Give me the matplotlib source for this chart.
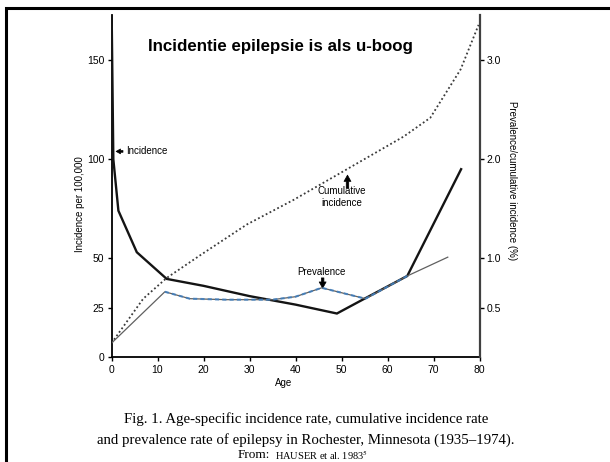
import matplotlib
matplotlib.use("Agg")
import matplotlib.pyplot as plt
from matplotlib.patches import Rectangle

plt.rcParams['font.family'] = ['Liberation Sans', 'DejaVu Sans']
plt.rcParams['mathtext.fontset'] = 'stix'

# ---- data ----
inc_age = [0, 0.4, 1.5, 5.5, 12, 20, 30, 40, 49, 55, 64.3, 76]
inc_val = [180, 100, 74, 53, 39.5, 36, 30.8, 26.5, 22, 29.5, 41, 95]        # per 100,000

cum_age = [0, 6.9, 12, 19.3, 29.4, 39.6, 49.7, 63.5, 69.3, 75.9, 79.8]
cum_val = [0.14, 0.59, 0.80, 1.03, 1.34, 1.59, 1.86, 2.23, 2.42, 2.91, 3.36]  # %

prev_age = [0, 11.6, 17, 25, 35, 40, 45.7, 55.2, 64.3, 73.1]
prev_val = [0.14, 0.66, 0.59, 0.58, 0.58, 0.61, 0.70, 0.59, 0.82, 1.01]      # %

left_ticks = [0, 25, 50, 100, 150]
right_ticks = [0.5, 1.0, 2.0, 3.0]
right_labels = ["0.5", "1.0", "2.0", "3.0"]
x_ticks = [0, 10, 20, 30, 40, 50, 60, 70, 80]

title = "Incidentie epilepsie is als u-boog"
caption1 = "Fig. 1. Age-specific incidence rate, cumulative incidence rate"
caption2 = "and prevalence rate of epilepsy in Rochester, Minnesota (1935\u20131974)."

W, H = 610, 462
fig = plt.figure(figsize=(W / 100, H / 100), dpi=100)
fig.patch.set_facecolor('white')

L, R, T, B = 111.5, 479.5, 15, 357
ax = fig.add_axes([L / W, 1 - B / H, (R - L) / W, (B - T) / H])
ax2 = ax.twinx()

ymax = 173
ax.set_xlim(0, 80)
ax.set_ylim(0, ymax)
ax2.set_ylim(0, ymax / 50)

# lines
ax.plot(inc_age, inc_val, color='#141414', lw=1.7, solid_joinstyle='miter', zorder=4)
ax2.plot(cum_age, cum_val, color='#3a3a3a', lw=1.3, linestyle=(0, (1, 1.4)), zorder=3)
ax2.plot(prev_age, prev_val, color='#606060', lw=0.9, zorder=3)
ax2.plot(prev_age[1:9], prev_val[1:9], color='#3f7fc0', lw=1.5,
         linestyle=(0, (2, 1.5)), alpha=0.85, zorder=3)

# spines / ticks
for a in (ax, ax2):
    a.spines['top'].set_visible(False)
    a.patch.set_visible(False)
ax.spines['right'].set_visible(False)
ax.spines['left'].set_linewidth(1.3)
ax.spines['bottom'].set_linewidth(1.3)
ax2.spines['left'].set_visible(False)
ax2.spines['bottom'].set_visible(False)
ax2.spines['right'].set_linewidth(1.6)
ax2.spines['right'].set_color('#404040')

ax.set_xticks(x_ticks)
ax.set_yticks(left_ticks)
ax2.set_yticks(right_ticks)
ax2.set_yticklabels(right_labels)
ax.tick_params(axis='both', direction='out', length=3, width=1, pad=2,
               labelsize=7.5, colors='black')
ax.tick_params(axis='x', pad=3)
ax2.tick_params(axis='y', direction='out', length=3, width=1, pad=2,
                labelsize=7.5, colors='black')

# axis labels
ax.text(-0.086, 0.447, "Incidence per 100,000", rotation=90, transform=ax.transAxes,
        ha='center', va='center', fontsize=7)
ax.text(1.087, 0.515, "Prevalence/cumulative incidence (%)", rotation=-90,
        transform=ax.transAxes, ha='center', va='center', fontsize=7)
ax.text(0.468, -0.075, "Age", transform=ax.transAxes, ha='center', va='center', fontsize=7)

# annotations
arrow = dict(arrowstyle='simple,head_length=0.45,head_width=0.5,tail_width=0.18',
             color='black', lw=0.5, shrinkA=0, shrinkB=0)
ax.annotate("Incidence", xy=(1.0, 104), xytext=(3.1, 104), fontsize=7,
            va='center', ha='left', arrowprops=arrow, zorder=6)
ax.annotate("", xy=(51.3, 92), xytext=(51.3, 85.5), arrowprops=arrow, zorder=6)
ax.text(50.0, 81, "Cumulative\nincidence", fontsize=7, ha='center', va='center',
        linespacing=1.25)
ax.annotate("", xy=(45.9, 34.8), xytext=(45.9, 40.0), arrowprops=arrow, zorder=6)
ax.text(45.6, 42.8, "Prevalence", fontsize=7, ha='center', va='center')

# title
fig.text(280.5 / W, 1 - 47 / H, title, ha='center', va='center',
         fontsize=12.15, fontweight='bold')

# caption
fig.text(306 / W, 1 - 419 / H, caption1, ha='center', va='center',
         fontsize=10.7, family='Liberation Serif')
fig.text(306 / W, 1 - 440 / H, caption2, ha='center', va='center',
         fontsize=10.7, family='Liberation Serif')
t3 = fig.text(238 / W, 1 - 461.5 / H, "From:", ha='left', va='bottom',
              fontsize=9.5, family='Liberation Serif')
ax.annotate(r"HAUSER et al. 1983$^{5}$", xy=(1, 0), xycoords=t3,
            xytext=(3, 0), textcoords='offset points', ha='left', va='bottom',
            fontsize=7.5, family='Liberation Serif', annotation_clip=False)

# frame around the slide
fig.patches.append(Rectangle((6 / W, -0.5), 2, 1.5 - 8 / H,
                             transform=fig.transFigure, fill=False,
                             edgecolor='black', lw=2.2, clip_on=False))

fig.savefig("out.png", dpi=100)
